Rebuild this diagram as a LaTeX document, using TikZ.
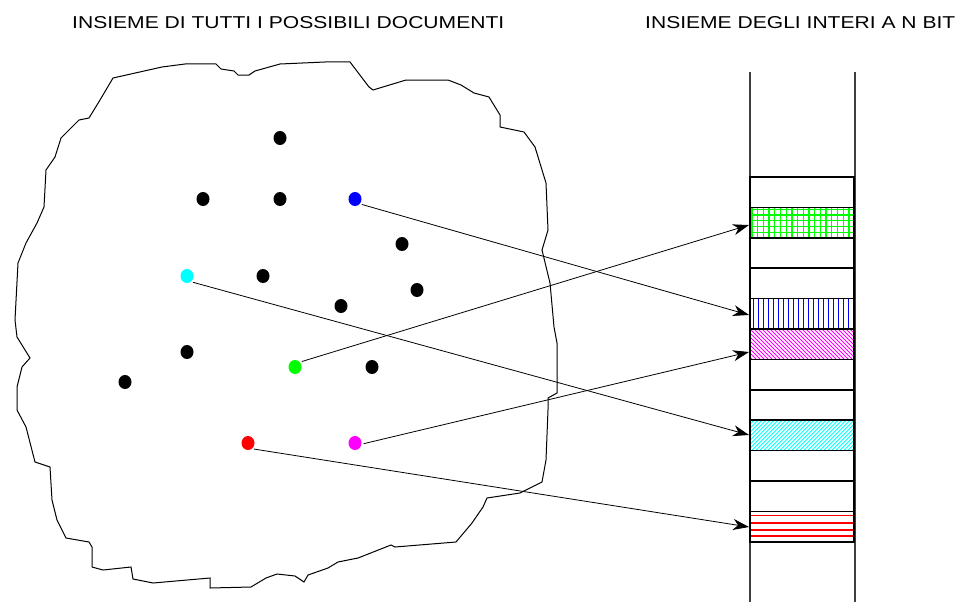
\documentclass[tikz,border=0pt]{standalone}
\usepackage{fontspec}
\setmainfont{Liberation Sans}
\usetikzlibrary{shapes.geometric,arrows.meta,calc}
\definecolor{pblue}{RGB}{0,0,255}
\definecolor{pcyan}{RGB}{0,255,255}
\definecolor{pgreen}{RGB}{0,255,0}
\definecolor{pmagenta}{RGB}{255,0,255}
\definecolor{pred}{RGB}{255,0,0}
\begin{document}
\begin{tikzpicture}[x=1pt,y=-1pt,
  dot/.style={ellipse,fill=#1,draw=none,minimum width=13pt,minimum height=14pt,inner sep=0pt},
  slot/.style={minimum width=104pt,minimum height=30.4pt,
               inner sep=0pt,outer sep=0pt,anchor=north west},
  border/.style={draw=black,line width=1.7pt},
  link/.style={line width=0.8pt,-{Stealth[length=16pt,width=11pt,inset=5pt]},shorten <=2pt},
  heading/.style={inner sep=0pt,anchor=west},
  colline/.style={draw=black!75,line width=1.2pt},
  blob/.style={draw=black,line width=1pt,line join=miter}]

\useasboundingbox[fill=white] (0,0) rectangle (958,602);

% headings
\node[heading] (h1) at (72,23) {\resizebox{432pt}{12pt}{INSIEME DI TUTTI I POSSIBILI DOCUMENTI}};
\node[heading] (h2) at (645,23) {\resizebox{310pt}{12pt}{INSIEME DEGLI INTERI A N BIT}};

% set of documents
\draw[blob] (113,78) -- (162,67) -- (185,64) -- (216,64) -- (221,69) -- (234,71) -- (238,75)
  -- (249,75) -- (255,71) -- (280,64) -- (325,62) -- (350,62) -- (369,87) -- (373,90)
  -- (406,80) -- (448,80) -- (461,85) -- (474,93) -- (489,97) -- (500,115) -- (500,127)
  -- (524,132) -- (535,147) -- (546,183) -- (548,230) -- (542,250) -- (550,283)
  -- (554,327) -- (557,343) -- (557,393) -- (548,398) -- (548,410) -- (546,460)
  -- (542,482) -- (520,493) -- (487,498) -- (483,507) -- (472,523) -- (456,542)
  -- (395,547) -- (391,545) -- (358,558) -- (338,562) -- (328,568) -- (308,575)
  -- (304,582) -- (295,576) -- (277,574) -- (266,578) -- (251,587) -- (210,588)
  -- (210,578) -- (153,583) -- (133,579) -- (131,567) -- (103,570) -- (92,567)
  -- (92,547) -- (89,542) -- (66,538) -- (57,520) -- (52,500) -- (50,467) -- (35,462)
  -- (26,427) -- (17,410) -- (17,387) -- (22,367) -- (30,358) -- (17,337) -- (15,320)
  -- (18,263) -- (26,243) -- (37,223) -- (44,207) -- (46,170) -- (55,157) -- (61,138)
  -- (79,120) -- (89,118) -- (100,100) -- cycle;

% documents
\node[dot=black] (k1) at (280,138) {};
\node[dot=black] (k2) at (203,199) {};
\node[dot=black] (k3) at (280,199) {};
\node[dot=black] (k4) at (402,244) {};
\node[dot=black] (k5) at (263,276) {};
\node[dot=black] (k6) at (417,290) {};
\node[dot=black] (k7) at (341,306) {};
\node[dot=black] (k8) at (187,352) {};
\node[dot=black] (k9) at (125,382) {};
\node[dot=black] (k10) at (372,367) {};
\node[dot=pblue] (dB) at (355,199) {};
\node[dot=pcyan] (dC) at (187,276) {};
\node[dot=pgreen] (dG) at (295,367) {};
\node[dot=pmagenta] (dM) at (355,443) {};
\node[dot=pred] (dR) at (248,443) {};

% column of n-bit integers
\draw[colline] (750,72) -- (750,602);
\draw[colline] (855,72) -- (855,602);
\foreach \i [evaluate=\i as \yy using 177+30.4*\i] in {0,...,11}
  \node[slot] (c\i) at (750,\yy) {};

% fillings of the occupied slots
\begin{scope}
  \clip (c1.north west) rectangle (c1.south east);
  \foreach \k in {0,...,19} {
    \draw[pgreen,line width=1.3pt] ($(c1.north west)+(2+5.7*\k,0)$) -- ++(0,31);
  }
  \foreach \k in {0,...,5} {
    \draw[pgreen,line width=1.3pt] ($(c1.north west)+(0,2+5.7*\k)$) -- ++(105,0);
  }
\end{scope}
\begin{scope}
  \clip (c4.north west) rectangle (c4.south east);
  \foreach \k in {0,...,21}
    \draw[pblue,line width=1pt] ($(c4.north west)+(3+5*\k,0)$) -- ++(0,31);
\end{scope}
\begin{scope}
  \clip (c5.north west) rectangle (c5.south east);
  \foreach \k in {0,...,36}
    \draw[pmagenta,line width=0.8pt] ($(c5.north west)+(-32+4*\k,0)$) -- ++(32,32);
\end{scope}
\begin{scope}
  \clip (c8.north west) rectangle (c8.south east);
  \foreach \k in {0,...,36}
    \draw[pcyan,line width=0.8pt] ($(c8.north west)+(-32+4*\k,32)$) -- ++(32,-32);
\end{scope}
\begin{scope}
  \clip (c11.north west) rectangle (c11.south east);
  \foreach \d in {4,11.5,18.5,24.5}
    \draw[pred,line width=1.3pt] ($(c11.north west)+(0,\d)$) -- ++(105,0);
\end{scope}

% slot outlines
\foreach \i in {0,...,11}
  \draw[border] (c\i.north west) rectangle (c\i.south east);

% arrow targets on the column
\coordinate (tB) at (749,315);
\coordinate (tG) at (749,225);
\coordinate (tM) at (749,352);
\coordinate (tC) at (749,435);
\coordinate (tR) at (749,527);

% hash mapping
\draw[link] (dB.-45) -- (tB);
\draw[link] (dC.-55) -- (tC);
\draw[link] (dG.45) -- (tG);
\draw[link] (dM.-10) -- (tM);
\draw[link] (dR.-55) -- (tR);
\end{tikzpicture}
\end{document}
